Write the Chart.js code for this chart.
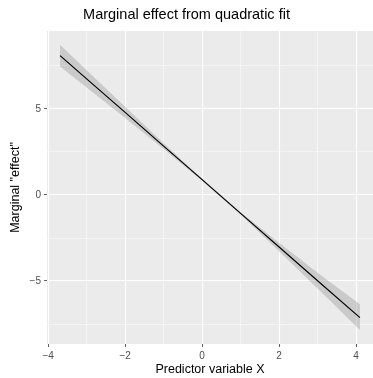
<!DOCTYPE html>
<html>
<head>
<meta charset="utf-8">
<script src="https://cdn.jsdelivr.net/npm/chart.js@4/dist/chart.umd.min.js"></script>
<style>
  body { margin: 0; background: #ffffff; }
  canvas { display: block; }
</style>
</head>
<body>
<canvas id="marginalChart" width="373" height="378"></canvas>
<script>
// values
const xValues = [-3.69, -3, -2, -1, 0, 1, 2, 3, 4.1];
const fitValues = [8.10, 6.75, 4.80, 2.84, 0.89, -1.07, -3.02, -4.98, -7.13];
const upperValues = [8.73, 7.25, 5.13, 3.01, 0.95, -1.01, -2.77, -4.52, -6.35];
const lowerValues = [7.47, 6.25, 4.47, 2.67, 0.83, -1.13, -3.27, -5.44, -7.85];

const xMajorTicks = [-4, -2, 0, 2, 4];
const xMinorTicks = [-3, -1, 1, 3];
const yMajorTicks = [-5, 0, 5];
const yMinorTicks = [-7.5, -2.5, 2.5, 7.5];

const fontFamily = '"Liberation Sans", Arial, sans-serif';
const panelColor = '#ebebeb';

function toPoints(ys) {
    return xValues.map((x, i) => ({ x: x, y: ys[i] }));
}

function fmt(v) {
    return v < 0 ? '\u2212' + Math.abs(v) : String(v);
}

const panelBackground = {
    id: 'panelBackground',
    beforeDraw(chart) {
        const { ctx, chartArea } = chart;
        ctx.save();
        ctx.fillStyle = panelColor;
        ctx.fillRect(chartArea.left, chartArea.top, chartArea.right - chartArea.left, chartArea.bottom - chartArea.top);
        ctx.restore();
    }
};

function axisOptions(majors, minors, min, max, titleText, titlePadding) {
    return {
        type: 'linear',
        min: min,
        max: max,
        afterBuildTicks(scale) {
            scale.ticks = majors.concat(minors).sort((a, b) => a - b).map(v => ({ value: v }));
        },
        grid: {
            color: '#ffffff',
            lineWidth: ctx => majors.includes(ctx.tick?.value) ? 1.07 : 0.53,
            tickColor: ctx => majors.includes(ctx.tick?.value) ? '#333333' : 'rgba(0,0,0,0)',
            tickWidth: 0.8,
            tickLength: 3,
            drawTicks: true
        },
        border: { display: false },
        ticks: {
            autoSkip: false,
            maxRotation: 0,
            padding: 3,
            color: '#4d4d4d',
            font: { family: fontFamily, size: 10 },
            callback: v => majors.includes(v) ? fmt(v) : ''
        },
        title: {
            display: true,
            text: titleText,
            color: '#000000',
            font: { family: fontFamily, size: 12.5 },
            padding: titlePadding
        }
    };
}

const xScale = axisOptions(xMajorTicks, xMinorTicks, -4.03, 4.44, 'Predictor variable X', { top: 0, bottom: 1 });
xScale.afterFit = scale => { scale.height = 34; };
const yScale = axisOptions(yMajorTicks, yMinorTicks, -8.66, 9.53, 'Marginal "effect"', { top: 8, bottom: 0 });
yScale.afterFit = scale => { scale.width = 47; };

new Chart(document.getElementById('marginalChart').getContext('2d'), {
    type: 'line',
    data: {
        datasets: [
            {
                label: 'fit',
                data: toPoints(fitValues),
                borderColor: '#000000',
                borderWidth: 1.2,
                pointRadius: 0,
                fill: false
            },
            {
                label: 'upper',
                data: toPoints(upperValues),
                borderWidth: 0,
                borderColor: 'rgba(0,0,0,0)',
                backgroundColor: 'rgba(153,153,153,0.4)',
                pointRadius: 0,
                fill: '+1'
            },
            {
                label: 'lower',
                data: toPoints(lowerValues),
                borderWidth: 0,
                borderColor: 'rgba(0,0,0,0)',
                pointRadius: 0,
                fill: false
            }
        ]
    },
    options: {
        responsive: false,
        animation: false,
        layout: { padding: 0 },
        scales: { x: xScale, y: yScale },
        plugins: {
            legend: { display: false },
            tooltip: { enabled: false },
            title: {
                display: true,
                text: 'Marginal effect from quadratic fit',
                color: '#000000',
                font: { family: fontFamily, size: 14.5, weight: 'normal' },
                padding: { top: 6, bottom: 7.6 }
            }
        }
    },
    plugins: [panelBackground]
});
</script>
</body>
</html>
